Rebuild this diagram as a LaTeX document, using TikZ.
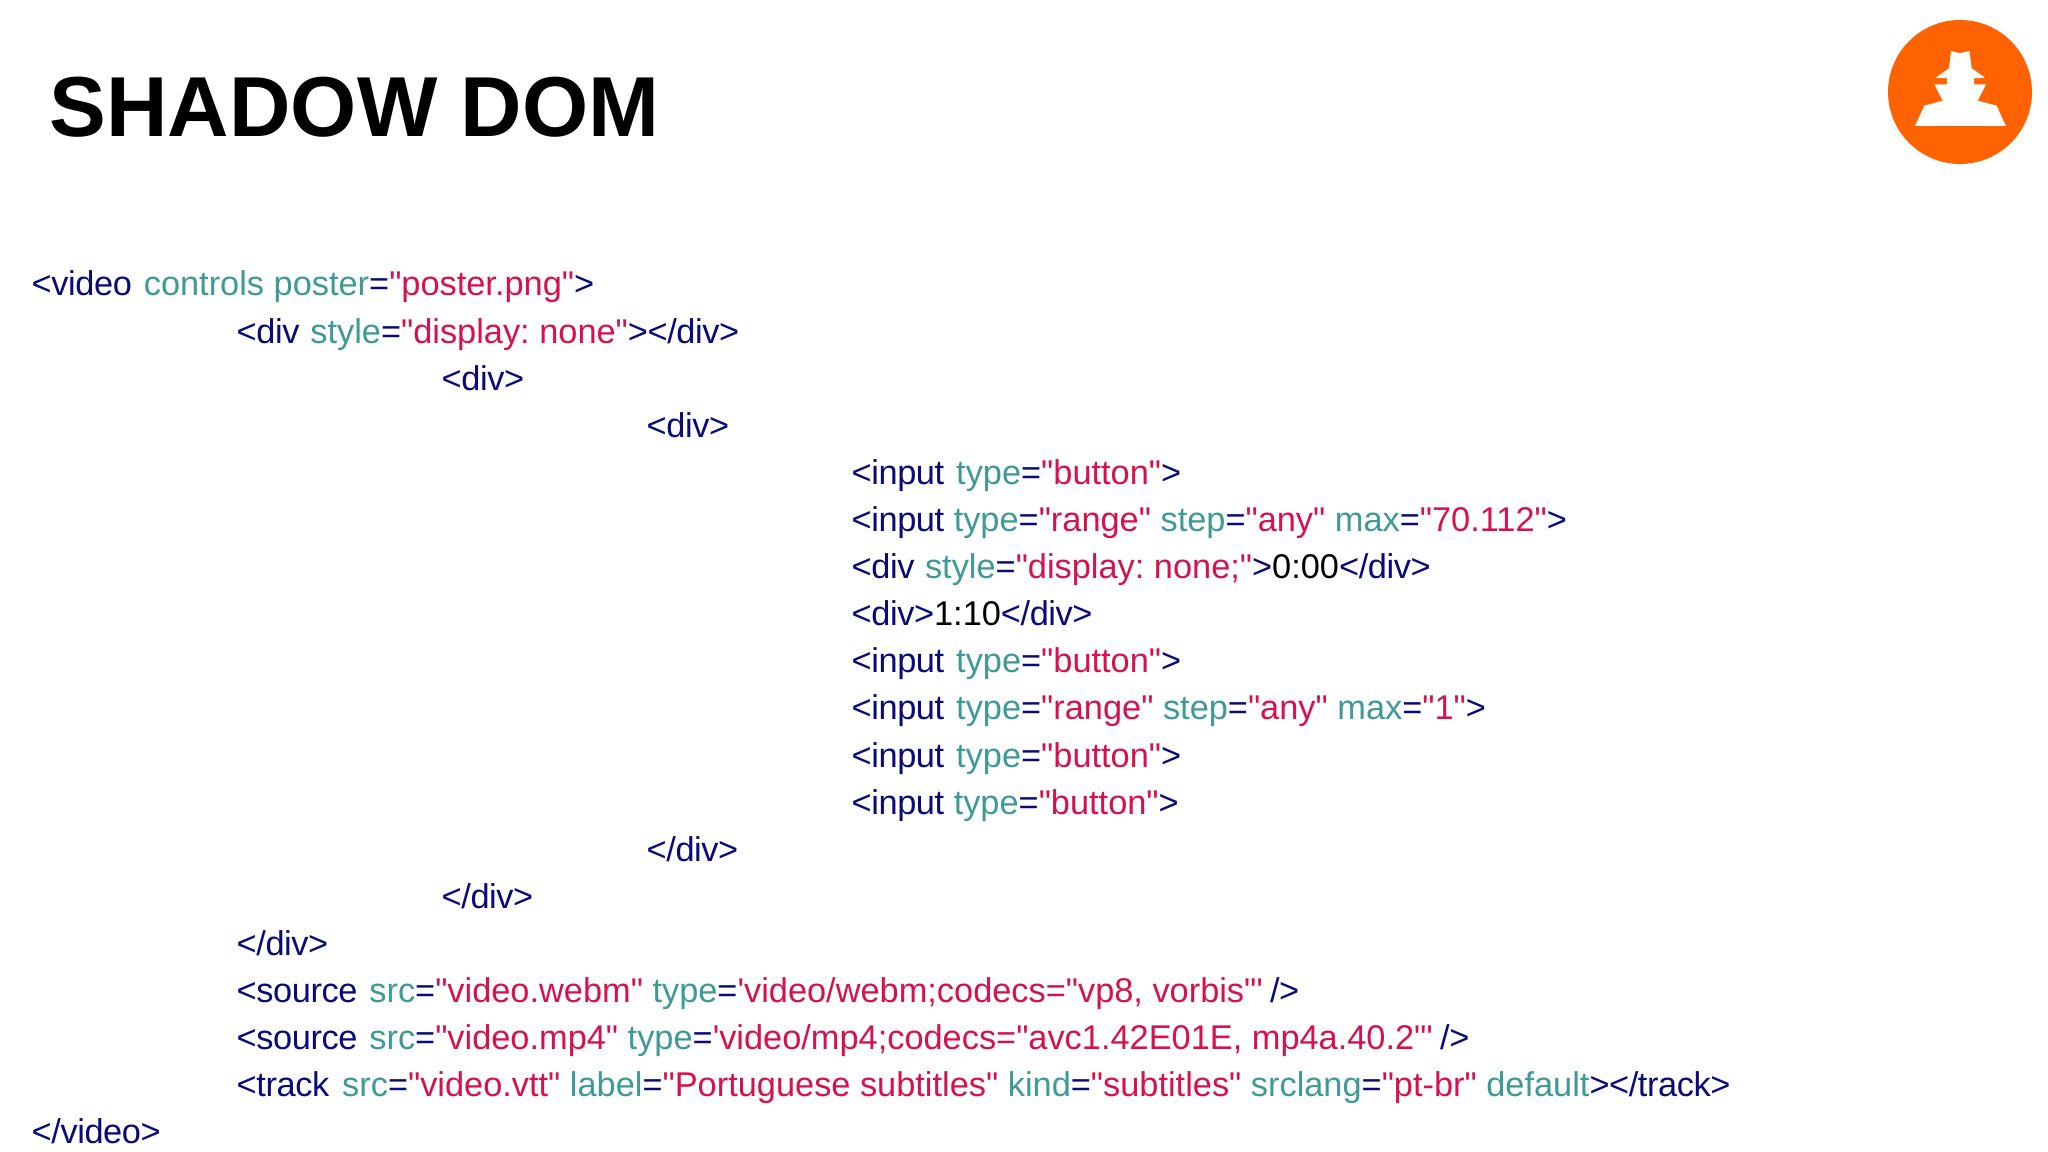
\documentclass[tikz,border=0pt]{standalone}
\usepackage{fontspec}
\usepackage{xcolor}
\usetikzlibrary{positioning}
\newfontfamily\codefont{Liberation Sans}
\definecolor{tagblue}{HTML}{0A0A78}
\definecolor{attrteal}{HTML}{3F9A96}
\definecolor{valred}{HTML}{D5124F}
\definecolor{logoorange}{HTML}{FF6200}
\newcommand{\tg}[1]{\textcolor{tagblue}{\addfontfeature{LetterSpace=-1.2}#1}}
\newcommand{\ar}[1]{\textcolor{attrteal}{#1}}
\newcommand{\vl}[1]{\textcolor{valred}{#1}}

\begin{document}
\begin{tikzpicture}[x=0.01cm,y=-0.01cm,
  code/.style={anchor=base west,inner sep=0pt,font=\codefont\fontsize{9.77pt}{12pt}\selectfont\frenchspacing}]
\useasboundingbox (0,0) rectangle (2048,1152);
\fill[white] (0,0) rectangle (2048,1152);
\node[anchor=base west,inner sep=0pt,font=\codefont\bfseries\fontsize{24.2pt}{30pt}\selectfont] (title) at (49,136.8) {SHADOW DOM};
% logo
\fill[logoorange] (1960,92) circle (72);
\fill[white] (1915,126) -- (1924.3,105.7) -- (1942.7,100.7) -- (1934.3,84.3) -- (1947,84.3) -- (1947,78.3)
  -- (1935.7,77.7) -- (1949,68.3) -- (1951,51) -- (1960,53.3) -- (1969.3,51) -- (1971.7,68.3) -- (1985,77.7)
  -- (1974,78.3) -- (1974,84.3) -- (1986,84.3) -- (1977.7,100.7) -- (1996.7,105.7) -- (2005.7,126) -- cycle;
% code lines
\node[code] (line1) at (31,296) {\tg{<video}\hspace{0.7pt} \ar{controls poster}\tg{=}\vl{"poster.png"}\tg{>}};
\node[code] (line2) at (236,343.1) {\tg{<div}\hspace{0.4pt} \ar{style}\tg{=}\vl{"display: none"}\tg{></div>}};
\node[code] (line3) at (441,390.2) {\tg{<div>}};
\node[code] (line4) at (646,437.3) {\tg{<div>}};
\node[code] (line5) at (851,484.4) {\tg{<input}\hspace{0.7pt} \ar{type}\tg{=}\vl{"button"}\tg{>}};
\node[code] (line6) at (851,531.5) {\tg{<input} \ar{type}\tg{=}\vl{"range"} \ar{step}\tg{=}\vl{"any"} \ar{max}\tg{=}\vl{"70.112"}\tg{>}};
\node[code] (line7) at (851,578.6) {\tg{<div}\hspace{0.3pt} \ar{style}\tg{=}\vl{"display: none;"}\tg{>}0:00\tg{</div>}};
\node[code] (line8) at (851,625.7) {\tg{<div>}1:10\tg{</div>}};
\node[code] (line9) at (851,672.8) {\tg{<input}\hspace{0.7pt} \ar{type}\tg{=}\vl{"button"}\tg{>}};
\node[code] (line10) at (851,719.9) {\tg{<input}\hspace{0.7pt} \ar{type}\tg{=}\vl{"range"} \ar{step}\tg{=}\vl{"any"} \ar{max}\tg{=}\vl{"1"}\tg{>}};
\node[code] (line11) at (851,767) {\tg{<input}\hspace{0.7pt} \ar{type}\tg{=}\vl{"button"}\tg{>}};
\node[code] (line12) at (851,814.1) {\tg{<input} \ar{type}\tg{=}\vl{"button"}\tg{>}};
\node[code] (line13) at (646,861.2) {\tg{</div>}};
\node[code] (line14) at (441,908.3) {\tg{</div>}};
\node[code] (line15) at (236,955.4) {\tg{</div>}};
\node[code] (line16) at (236,1002.5) {\tg{<source}\hspace{0.7pt} \ar{src}\tg{=}\vl{"video.webm"} \ar{type}\tg{=}\vl{'video/webm;codecs="vp8, vorbis"'}\hspace{-0.7pt} \tg{/>}};
\node[code] (line17) at (236,1049.6) {\tg{<source}\hspace{0.7pt} \ar{src}\tg{=}\vl{"video.mp4"} \ar{type}\tg{=}\vl{'video/mp4;codecs="avc1.42E01E, mp4a.40.2"'}\hspace{-0.7pt} \tg{/>}};
\node[code] (line18) at (236,1096.7) {\tg{<track}\hspace{1pt} \ar{src}\tg{=}\vl{"video.vtt"} \ar{label}\tg{=}\vl{"Portuguese subtitles"} \ar{kind}\tg{=}\vl{"subtitles"} \ar{srclang}\tg{=}\vl{"pt-br"} \ar{default}\tg{></track>}};
\node[code] (line19) at (31,1143.8) {\tg{</video>}};
\end{tikzpicture}
\end{document}
